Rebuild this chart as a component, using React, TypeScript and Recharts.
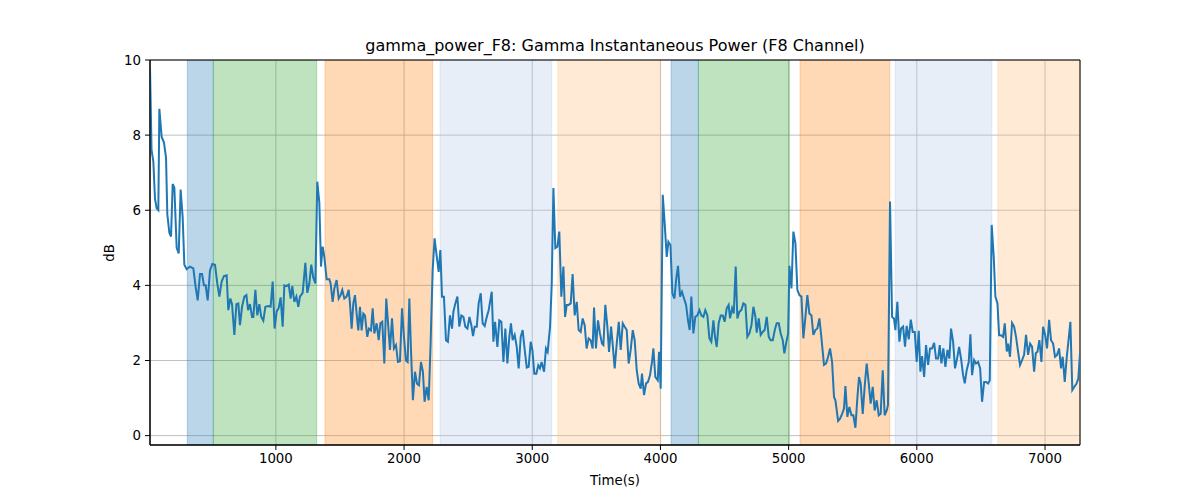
import { LineChart, Line, XAxis, YAxis, CartesianGrid, ReferenceArea } from 'recharts';

// [time (s), gamma power (dB)]
const samples: [number, number][] = [
  [18, 9.8], [30, 7.6], [44, 7.3], [57, 6.3], [70, 6.05], [83, 6.0], [91, 8.7], [109, 7.95], [127, 7.8], [143, 7.4],
  [153, 5.9], [169, 5.4], [182, 5.3], [195, 6.7], [208, 6.6], [226, 5.0], [242, 4.85], [257, 6.55], [273, 5.8], [286, 4.55],
  [304, 4.43], [330, 4.5], [356, 4.45], [374, 3.96], [390, 3.6], [408, 4.3], [424, 4.3], [439, 4.0], [452, 4.0], [468, 3.6],
  [486, 4.4], [504, 4.57], [525, 4.55], [543, 4.05], [559, 3.7], [577, 4.1], [595, 4.25], [616, 4.27], [629, 3.34], [645, 3.65],
  [658, 3.5], [676, 2.68], [692, 3.5], [707, 3.52], [720, 2.94], [736, 3.43], [754, 3.7], [770, 3.74], [783, 3.34], [798, 3.5],
  [814, 3.16], [824, 3.16], [840, 3.88], [855, 3.2], [871, 3.5], [886, 3.16], [902, 3.06], [918, 3.43], [941, 3.45], [959, 3.43],
  [975, 4.1], [990, 2.85], [1006, 3.3], [1022, 3.4], [1037, 3.68], [1053, 2.9], [1066, 4.0], [1084, 3.98], [1100, 4.02], [1115, 3.65],
  [1128, 3.98], [1144, 3.56], [1160, 3.7], [1175, 3.43],
  [1188, 3.7], [1209, 3.8], [1230, 4.6], [1245, 3.8], [1261, 4.05], [1276, 4.55], [1292, 4.2], [1308, 4.05], [1323, 6.76], [1339, 6.2],
  [1352, 4.5], [1365, 5.03], [1378, 4.76], [1396, 4.16], [1417, 4.16], [1427, 4.05], [1443, 3.56], [1456, 3.92], [1474, 4.14], [1490, 3.65],
  [1505, 3.74], [1518, 3.88], [1534, 3.65], [1552, 3.7], [1568, 3.88], [1578, 3.52], [1591, 2.85], [1604, 3.52], [1617, 3.74], [1630, 3.25],
  [1643, 2.8], [1656, 3.43], [1669, 2.8], [1682, 3.25], [1695, 3.2], [1713, 2.63], [1726, 2.85], [1742, 2.8], [1755, 3.39], [1768, 2.72],
  [1786, 2.99], [1802, 2.54], [1815, 2.99], [1830, 3.03], [1846, 1.92], [1861, 3.65], [1877, 2.9], [1890, 2.28], [1906, 3.12], [1921, 2.32],
  [1937, 2.41], [1952, 1.96], [1968, 1.98], [1984, 3.39], [1999, 2.63], [2015, 2.0], [2028, 1.96], [2041, 3.65], [2054, 2.28], [2069, 0.94],
  [2085, 1.7], [2101, 1.38], [2116, 1.34], [2132, 1.96], [2147, 1.7], [2160, 0.9], [2176, 1.3], [2192, 0.94], [2207, 2.45], [2223, 4.4],
  [2238, 5.25], [2254, 4.8], [2270, 4.36], [2283, 4.94], [2296, 3.7], [2311, 3.7], [2327, 2.54], [2342, 2.5], [2358, 3.2],
  [2374, 2.85], [2385, 3.3], [2400, 3.52], [2416, 3.7], [2431, 2.9], [2447, 3.2], [2463, 3.16], [2478, 2.9], [2494, 2.85], [2510, 3.16],
  [2525, 2.94], [2538, 2.65], [2551, 2.9], [2567, 2.9], [2582, 3.52], [2598, 3.79], [2613, 2.99], [2629, 2.92], [2645, 3.16], [2660, 3.34],
  [2684, 3.83], [2697, 2.5], [2710, 3.03], [2728, 2.36], [2743, 3.07], [2759, 3.03], [2775, 1.96], [2790, 2.85], [2806, 1.92], [2821, 2.63],
  [2834, 2.99], [2847, 2.54], [2863, 2.68], [2879, 2.36], [2894, 1.79], [2910, 2.63], [2925, 2.81], [2941, 2.28], [2957, 1.81], [2972, 1.83],
  [2988, 2.5], [3001, 2.28], [3016, 1.65], [3032, 1.65], [3047, 1.87], [3060, 1.79], [3073, 1.96], [3092, 1.7], [3107, 2.32], [3120, 2.23],
  [3139, 2.9], [3152, 4.05], [3165, 6.59], [3180, 4.99], [3196, 5.03], [3211, 5.43], [3227, 3.7], [3243, 4.5], [3256, 3.16], [3269, 3.48],
  [3284, 3.48], [3300, 3.52], [3315, 4.3], [3331, 3.2], [3347, 3.56], [3362, 2.81], [3378, 2.76], [3393, 3.12], [3409, 2.94], [3424, 2.32],
  [3440, 2.59], [3456, 2.54], [3471, 2.32], [3482, 3.41], [3497, 2.32], [3513, 3.07], [3528, 2.72],
  [3544, 2.45], [3555, 2.41], [3570, 3.48], [3586, 2.9], [3599, 2.23], [3615, 2.9], [3628, 2.41], [3643, 1.79], [3659, 2.45], [3675, 3.03],
  [3690, 2.28], [3706, 2.99], [3721, 2.9], [3737, 2.81], [3752, 1.92], [3768, 2.28], [3784, 2.81], [3799, 2.54], [3815, 1.74], [3830, 1.39],
  [3846, 1.25], [3856, 1.65], [3872, 1.08], [3888, 1.39], [3903, 1.43], [3919, 1.61], [3934, 1.96], [3945, 2.32], [3960, 1.56], [3979, 1.47],
  [3989, 2.23], [4002, 1.25], [4018, 6.41], [4033, 5.65], [4049, 4.76], [4062, 5.16], [4078, 5.07], [4093, 3.79], [4109, 3.65], [4122, 4.14],
  [4137, 4.52], [4153, 3.7], [4168, 3.83], [4184, 3.65], [4200, 3.48], [4215, 3.07], [4228, 2.81], [4241, 3.7], [4257, 2.72], [4272, 3.16],
  [4288, 3.2], [4304, 3.34], [4319, 3.2], [4335, 3.16], [4350, 3.34], [4366, 3.2], [4382, 2.59], [4397, 2.5], [4413, 3.07], [4426, 2.63],
  [4439, 2.36], [4454, 2.99], [4470, 3.2], [4486, 3.2], [4501, 3.03], [4517, 3.39], [4532, 3.48], [4543, 3.12], [4559, 3.39], [4572, 3.25],
  [4587, 4.5], [4600, 3.12], [4616, 3.3], [4631, 3.34], [4647, 3.52], [4663, 3.48], [4678, 2.63], [4694, 2.72],
  [4710, 2.94], [4725, 3.43], [4741, 3.16], [4751, 2.74], [4767, 3.12], [4782, 2.68], [4798, 2.76], [4813, 2.81], [4829, 3.16], [4845, 2.63],
  [4860, 2.54], [4876, 2.54], [4892, 2.81], [4907, 2.99], [4923, 2.99], [4938, 2.72], [4954, 2.54], [4967, 2.19], [4980, 2.45], [4996, 2.72],
  [5006, 4.52], [5022, 3.92], [5037, 5.43], [5053, 5.12], [5068, 3.88], [5084, 3.74], [5100, 3.7], [5115, 2.59], [5131, 3.16], [5146, 3.74],
  [5162, 3.25], [5178, 3.2], [5193, 2.68], [5209, 2.81], [5224, 2.85], [5240, 3.12], [5255, 2.63], [5276, 1.88], [5292, 1.92], [5308, 2.1],
  [5323, 2.32], [5339, 1.96], [5354, 1.03], [5365, 0.94], [5386, 0.39], [5401, 0.45], [5417, 0.58], [5432, 0.72], [5443, 1.32], [5458, 0.5],
  [5474, 0.76], [5490, 0.54], [5505, 0.54], [5521, 0.21], [5536, 0.99], [5549, 1.56], [5562, 1.39], [5578, 0.58], [5593, 1.3], [5609, 1.92],
  [5625, 1.39], [5640, 0.85], [5656, 1.3], [5671, 0.67], [5687, 0.94], [5703, 0.54], [5718, 0.58], [5734, 1.74], [5749, 0.54], [5765, 0.67],
  [5775, 0.81], [5791, 6.23], [5807, 3.16], [5822, 3.12], [5833, 2.81], [5848, 3.56], [5864, 2.5],
  [5877, 2.85], [5893, 2.9], [5908, 2.37], [5921, 2.92], [5937, 2.56], [5953, 3.09], [5968, 2.76], [5984, 2.76], [5999, 1.96], [6015, 2.79],
  [6028, 1.7], [6041, 2.12], [6057, 1.56], [6072, 2.41], [6088, 1.88], [6103, 2.32], [6119, 2.32], [6135, 2.47], [6150, 2.05], [6166, 2.05],
  [6179, 2.41], [6192, 1.92], [6207, 2.32], [6223, 1.83], [6239, 2.28], [6254, 2.05], [6267, 2.85], [6283, 2.5], [6298, 1.79], [6314, 2.05],
  [6330, 2.36], [6345, 2.05], [6361, 1.61], [6374, 1.39], [6389, 1.74], [6405, 1.96], [6418, 2.7], [6431, 1.61], [6447, 2.01], [6462, 1.92],
  [6478, 1.96], [6494, 1.79], [6509, 0.9], [6525, 1.43], [6540, 1.43], [6556, 1.39], [6569, 1.47], [6584, 5.61], [6600, 4.76], [6613, 3.7],
  [6629, 3.52], [6642, 2.67], [6657, 2.67], [6673, 2.63], [6686, 2.99], [6702, 2.24], [6712, 2.45], [6727, 2.1], [6743, 3.0], [6759, 2.9],
  [6774, 2.63], [6790, 2.23], [6805, 1.88], [6821, 2.01], [6837, 2.15], [6852, 2.68], [6868, 2.15], [6884, 2.45], [6899, 2.37], [6915, 1.7],
  [6928, 2.19], [6941, 2.23], [6956, 2.54], [6972, 1.96], [6985, 2.9], [7001, 2.68], [7016, 2.32], [7032, 3.08], [7047, 2.54], [7063, 2.45],
  [7078, 2.1], [7094, 2.15], [7110, 2.32], [7125, 1.79], [7138, 2.1], [7154, 1.43], [7170, 2.1], [7185, 2.59], [7198, 3.03], [7213, 1.21],
  [7229, 1.3], [7245, 1.38], [7260, 1.52], [7273, 2.19],
];

// shaded phases
const spanStart = [309, 512, 1383, 2281, 3199, 4083, 4296, 5089, 5831, 6632];
const spanEnd = [512, 1318, 2223, 3152, 4002, 4296, 5006, 5789, 6585, 7300];
const spanKind = ['blue', 'green', 'orange', 'lightBlue', 'lightOrange', 'blue', 'green', 'orange', 'lightBlue', 'lightOrange'];

const xTicks = [1000, 2000, 3000, 4000, 5000, 6000, 7000];
const yTicks = [0, 2, 4, 6, 8, 10];

const X_MIN = 18;
const X_MAX = 7273;
const Y_MIN = -0.25;
const Y_MAX = 10;

const SPAN_FILL: Record<string, string> = {
  blue: '#1f77b4',
  green: '#2ca02c',
  orange: '#ff7f0e',
  lightBlue: '#aec7e8',
  lightOrange: '#ffbb78',
};

const FONT = '"DejaVu Sans", sans-serif';
const tickStyle = { fill: '#000', fontSize: 13.33, fontFamily: FONT };

const data = samples.map(([t, v]) => ({ t, v }));

export default function App() {
  return (
    <div style={{ position: 'absolute', left: 0, top: 0, width: 1200, height: 500, background: '#fff', fontFamily: FONT }}>
      <div style={{ position: 'absolute', left: 150, width: 930, top: 36, textAlign: 'center', fontSize: 16, lineHeight: '20px' }}>
        gamma_power_F8: Gamma Instantaneous Power (F8 Channel)
      </div>
      <div style={{ position: 'absolute', left: 150, width: 930, top: 472, textAlign: 'center', fontSize: 13.33, lineHeight: '18px' }}>
        Time(s)
      </div>
      <div
        style={{
          position: 'absolute', left: 110, top: 253, fontSize: 13.33, lineHeight: '18px',
          transform: 'translate(-50%, -50%) rotate(-90deg)', whiteSpace: 'nowrap',
        }}
      >
        dB
      </div>
      <LineChart width={1200} height={500} data={data} margin={{ top: 60, right: 120, bottom: 0, left: 90 }}>
        {spanStart.map((s, i) => (
          <ReferenceArea
            key={i}
            x1={s}
            x2={spanEnd[i]}
            y1={Y_MIN}
            y2={Y_MAX}
            fill={SPAN_FILL[spanKind[i]]}
            fillOpacity={0.3}
            stroke={SPAN_FILL[spanKind[i]]}
            strokeOpacity={0.3}
            ifOverflow="hidden"
          />
        ))}
        <CartesianGrid stroke="#b0b0b0" strokeWidth={0.8} />
        <XAxis
          dataKey="t"
          type="number"
          domain={[X_MIN, X_MAX]}
          ticks={xTicks}
          allowDataOverflow
          height={55}
          tick={tickStyle}
          tickSize={5}
          tickMargin={4}
          tickLine={{ stroke: '#000' }}
          axisLine={{ stroke: '#000' }}
        />
        <YAxis
          type="number"
          domain={[Y_MIN, Y_MAX]}
          ticks={yTicks}
          allowDataOverflow
          width={60}
          tick={tickStyle}
          tickSize={5}
          tickMargin={4}
          tickLine={{ stroke: '#000' }}
          axisLine={{ stroke: '#000' }}
        />
        <ReferenceArea x1={X_MIN} x2={X_MAX} y1={Y_MIN} y2={Y_MAX} fill="none" stroke="#000" strokeWidth={1} />
        <Line
          type="linear"
          dataKey="v"
          stroke="#1f77b4"
          strokeWidth={2}
          dot={false}
          isAnimationActive={false}
        />
      </LineChart>
    </div>
  );
}
